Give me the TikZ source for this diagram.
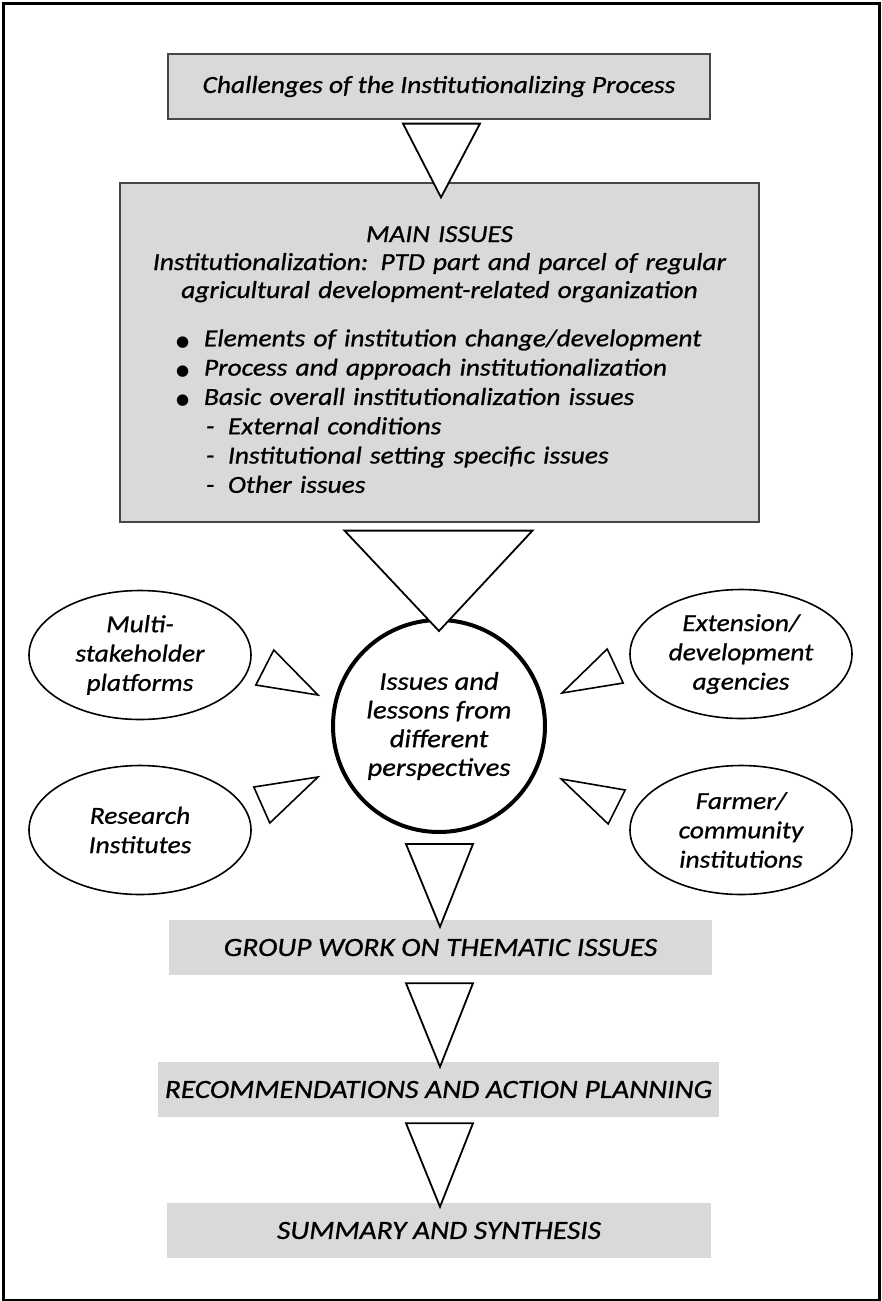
\documentclass[tikz,border=0pt]{standalone}
\usepackage{fontspec}
\setmainfont{Carlito}[FakeStretch=1.12,FakeBold=0.8]
\newfontfamily\dotfont{DejaVu Sans}
\usetikzlibrary{shapes.geometric,calc}
\definecolor{boxGrey} {RGB}{217,217,217}
\definecolor{edgeGrey}{RGB}{ 70, 70, 70}
\setlength{\parindent}{0pt}
\newcommand{\issueitem}[1]{\hspace*{56pt}\makebox[28pt][l]{\dotfont\fontsize{15}{15}\selectfont ●}#1\par}
\newcommand{\issuesub}[1]{\hspace*{86pt}\makebox[22pt][l]{-}#1\par}

\begin{document}
\begin{tikzpicture}[
  x=1pt,y=-1pt,
  font=\fontsize{24.5}{29.3}\selectfont\itshape,
  headbox/.style={fill=boxGrey,draw=edgeGrey,line width=1.2pt,inner sep=0pt,
               align=center},
  phasebox/.style={fill=boxGrey,inner sep=0pt,minimum height=55pt,
               font=\fontsize{26.3}{32}\selectfont\itshape},
  actor/.style={ellipse,draw,line width=1.6pt,minimum width=222pt,
               minimum height=129pt,inner sep=0pt,align=center},
  hub/.style={circle,draw,line width=4pt,minimum size=212pt,inner sep=0pt,
               align=center,font=\fontsize{25.5}{28.7}\selectfont\itshape},
  flowtri/.style={draw,fill=white,line width=1.8pt},
  sidetri/.style={draw,fill=white,line width=1.6pt},
]
\useasboundingbox (0,0) rectangle (882,1301);
\draw[line width=3pt] (3,3) rectangle (879,1300);

\node[headbox,minimum width=542pt,minimum height=65pt] (chal) at (439,86.5)
   {Challenges of the Institutionalizing Process};
\node[headbox,text width=639pt,minimum height=339pt] (issues) at (439.5,352.5) {%
   \rule{0pt}{30pt}MAIN ISSUES\\[-1.3pt]
   Institutionalization: PTD part and parcel of regular\\[-1.3pt]
   agricultural development-related organization\par
   \vspace{19pt}\raggedright
   \issueitem{Elements of institution change/development}
   \issueitem{Process and approach institutionalization}
   \issueitem{Basic overall institutionalization issues}
   \issuesub{External conditions}
   \issuesub{Institutional setting specific issues}
   \issuesub{Other issues}};

\node[hub] (lessons) at (439,726)
   {Issues and\\lessons from\\different\\perspectives};
\node[actor] (msp) at (140,655) {Multi-\\stakeholder\\platforms};
\node[actor] (ext) at (741,654) {Extension/\\development\\agencies};
\node[actor] (res) at (140,830) {Research\\Institutes};
\node[actor] (farm) at (741,830) {Farmer/\\community\\institutions};

\node[phasebox,minimum width=543pt] (group) at (440.5,947.5)
   {GROUP WORK ON THEMATIC ISSUES};
\node[phasebox,minimum width=561pt] (recom) at (438.5,1089.5)
   {RECOMMENDATIONS AND ACTION PLANNING};
\node[phasebox,minimum width=544pt] (summ) at (439,1230.5)
   {SUMMARY AND SYNTHESIS};

% flow down the column
\draw[flowtri] ($(chal.south)+(-36,4)$) -- ($(chal.south)+(41,4)$)
   -- ($(issues.north)+(1.5,15)$) -- cycle;
\draw[flowtri] ($(issues.south)+(-95,8)$) -- ($(issues.south)+(93,8)$)
   -- ($(lessons.north)+(0,13)$) -- cycle;
\draw[flowtri] ($(lessons.south)+(-33,10)$) -- ($(lessons.south)+(34,10)$)
   -- ($(group.north)+(-0.5,7)$) -- cycle;
\draw[flowtri] ($(group.south)+(-34.5,8)$) -- ($(group.south)+(32.5,8)$)
   -- ($(recom.north)+(1.5,5)$) -- cycle;
\draw[flowtri] ($(recom.south)+(-32.5,6)$) -- ($(recom.south)+(34.5,6)$)
   -- ($(summ.north)+(1,4)$) -- cycle;

% perspectives feeding the hub
\draw[sidetri] ($(msp.east)+(22,-5)$) -- ($(msp.east)+(4,30)$)
   -- ($(lessons.west)+(-13,-31)$) -- cycle;
\draw[sidetri] ($(ext.west)+(-22,-5)$) -- ($(ext.west)+(-6,29)$)
   -- ($(lessons.east)+(15,-33)$) -- cycle;
\draw[sidetri] ($(res.east)+(2,-43)$) -- ($(res.east)+(18,-7)$)
   -- ($(lessons.west)+(-13,51)$) -- cycle;
\draw[sidetri] ($(farm.west)+(-68,-51)$) -- ($(farm.west)+(-4,-40)$)
   -- ($(farm.west)+(-21,-6)$) -- cycle;
\end{tikzpicture}
\end{document}
